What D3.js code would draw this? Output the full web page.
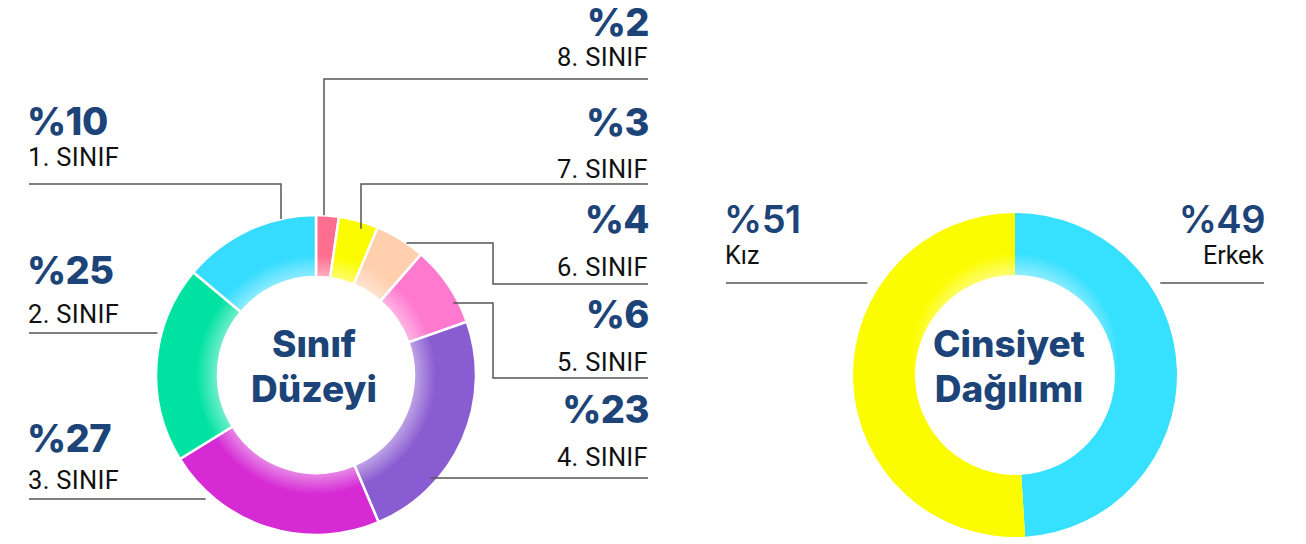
<!DOCTYPE html>
<html lang="tr">
<head>
<meta charset="utf-8" />
<script src="https://cdn.jsdelivr.net/npm/d3@7"></script>
<style>
  body { margin: 0; background: #fff; }
  .pct { font-family: Inter, "Open Sans", sans-serif; font-weight: 800; fill: #1c4478; font-size: 38px; letter-spacing: -0.5px; }
  .pct.light { font-weight: 600; }
  .cat { font-family: Roboto, sans-serif; fill: #111; font-size: 25.5px; letter-spacing: 0.3px; }
  .sex { font-family: Roboto, sans-serif; fill: #111; font-size: 25px; }
  .title { font-family: Inter, "Open Sans", sans-serif; font-weight: 800; fill: #1c4478; font-size: 37px; }
  .conn { fill: none; stroke: #555; stroke-width: 1.5; }
</style>
</head>
<body>
<svg id="chart" width="1306" height="544"></svg>
<script>
// Sınıf düzeyi
const classNames = ["1. SINIF", "2. SINIF", "3. SINIF", "4. SINIF", "5. SINIF", "6. SINIF", "7. SINIF", "8. SINIF"];
const classPct = [10, 25, 27, 23, 6, 4, 3, 2];
// arc sizes as they are drawn in the picture (share of the ring)
const classShare = [13.9, 19.9, 22.6, 24.0, 8.2, 5.1, 4.0, 2.3];
const classColors = ["#36dcff", "#00e2a2", "#d52ad4", "#8a5cd1", "#ff7acf", "#ffcfae", "#fcfc00", "#ff6e8e"];

// Cinsiyet dağılımı
const sexNames = ["Kız", "Erkek"];
const sexPct = [51, 49];
const sexColors = ["#fcfc00", "#36e0ff"];

const svg = d3.select("#chart");
const defs = svg.append("defs");

// label layout: side, pct baseline, name baseline, connector points (last leg meets ring)
const classLayout = [
  {side: "l", py: 135, ny: 166, pts: [[29, 184], [281, 184]], end: "v", dr: 0},
  {side: "l", py: 284, ny: 323, pts: [[29, 333]], end: "h", dr: 4},
  {side: "l", py: 452, ny: 489, pts: [[29, 499]], end: "h", dr: 6},
  {side: "r", py: 423, ny: 466, pts: [[648, 478]], end: "h", dr: -6},
  {side: "r", py: 328, ny: 371, pts: [[648, 378], [493, 378], [493, 303]], end: "h", dr: -5},
  {side: "r", py: 233, ny: 276, pts: [[648, 284], [493, 284], [493, 243]], end: "h", dr: 0},
  {side: "r", py: 136, ny: 178, pts: [[648, 184], [361, 184]], end: "v", dr: -7},
  {side: "r", py: 36, ny: 66, pts: [[648, 79], [324, 79]], end: "v", dr: 0}
];
const sexLayout = [
  {side: "l", py: 233, ny: 264, pts: [[726, 283]], end: "h", dr: 12},
  {side: "r", py: 233, ny: 264, pts: [[1264, 283]], end: "h", dr: 10}
];

function ringPoint(c, p, end, r) {
  if (end === "v") {
    const dx = p[0] - c.x;
    const h = Math.sqrt(r * r - dx * dx);
    return [p[0], p[1] < c.y ? c.y - h : c.y + h];
  }
  const dy = p[1] - c.y;
  const w = Math.sqrt(r * r - dy * dy);
  return [p[0] < c.x ? c.x - w : c.x + w, p[1]];
}

function donut(opt) {
  const pie = d3.pie().sort(null).value(d => d.share);
  const arc = d3.arc().innerRadius(opt.r0).outerRadius(opt.r1);
  const data = opt.order.map(i => ({i: i, share: opt.shares[i]}));
  const arcs = pie(data);

  // soft white glow along the inner edge of every slice (centre pushed up for a top-lit look)
  arcs.forEach(a => {
    const col = opt.colors[a.data.i];
    const gr = opt.r1 + opt.glowDy;
    const grad = defs.append("radialGradient").attr("id", opt.id + a.data.i)
      .attr("gradientUnits", "userSpaceOnUse")
      .attr("cx", 0).attr("cy", -opt.glowDy).attr("r", gr);
    const k0 = (opt.r0 - opt.glowDy) / gr;
    grad.append("stop").attr("offset", k0).attr("stop-color", d3.interpolateRgb(col, "#fff")(0.45));
    grad.append("stop").attr("offset", k0 + (opt.r1 - opt.r0) / gr * 0.35).attr("stop-color", col);
    grad.append("stop").attr("offset", 1).attr("stop-color", col);
  });

  svg.append("g").attr("transform", `translate(${opt.x},${opt.y})`)
    .selectAll("path").data(arcs).join("path")
    .attr("d", arc)
    .attr("fill", d => `url(#${opt.id}${d.data.i})`)
    .attr("stroke", opt.gap ? "#fff" : "none")
    .attr("stroke-width", opt.gap || 0);

  // centre title
  const t = svg.append("text").attr("class", "title").attr("text-anchor", "middle");
  opt.title.forEach((line, k) => {
    t.append("tspan").attr("x", opt.x + opt.titleDx).attr("y", opt.y - 18 + k * 45).text(line);
  });

  // labels + connectors
  const c = {x: opt.x, y: opt.y};
  opt.layout.forEach((L, i) => {
    const tx = L.side === "l" ? L.pts[0][0] - 2 : L.pts[0][0] + 1;
    const anchor = L.side === "l" ? "start" : "end";
    svg.append("text").attr("class", "pct " + opt.pctClass).attr("x", tx).attr("y", L.py)
      .attr("text-anchor", anchor).text("%" + opt.pct[i]);
    svg.append("text").attr("class", opt.nameClass).attr("x", L.pts[0][0] + (L.side === "l" ? -1 : 0)).attr("y", L.ny)
      .attr("text-anchor", anchor).text(opt.names[i]);
    const last = L.pts[L.pts.length - 1];
    const pts = L.pts.concat([ringPoint(c, last, L.end, opt.r1 + L.dr)]);
    svg.append("path").attr("class", "conn").attr("d", d3.line()(pts));
  });
}

donut({
  id: "cls", x: 316, y: 375, r0: 98, r1: 160, gap: 2.5, glowDy: 0,
  shares: classShare, colors: classColors, pct: classPct, names: classNames,
  order: [7, 6, 5, 4, 3, 2, 1, 0], layout: classLayout, nameClass: "cat", pctClass: "",
  title: ["Sınıf", "Düzeyi"], titleDx: -2
});

donut({
  id: "sex", x: 1015, y: 375, r0: 100, r1: 162, gap: 0, glowDy: 18,
  shares: sexPct, colors: sexColors, pct: sexPct, names: sexNames,
  order: [1, 0], layout: sexLayout, nameClass: "sex", pctClass: "light",
  title: ["Cinsiyet", "Dağılımı"], titleDx: -6
});
</script>
</body>
</html>
